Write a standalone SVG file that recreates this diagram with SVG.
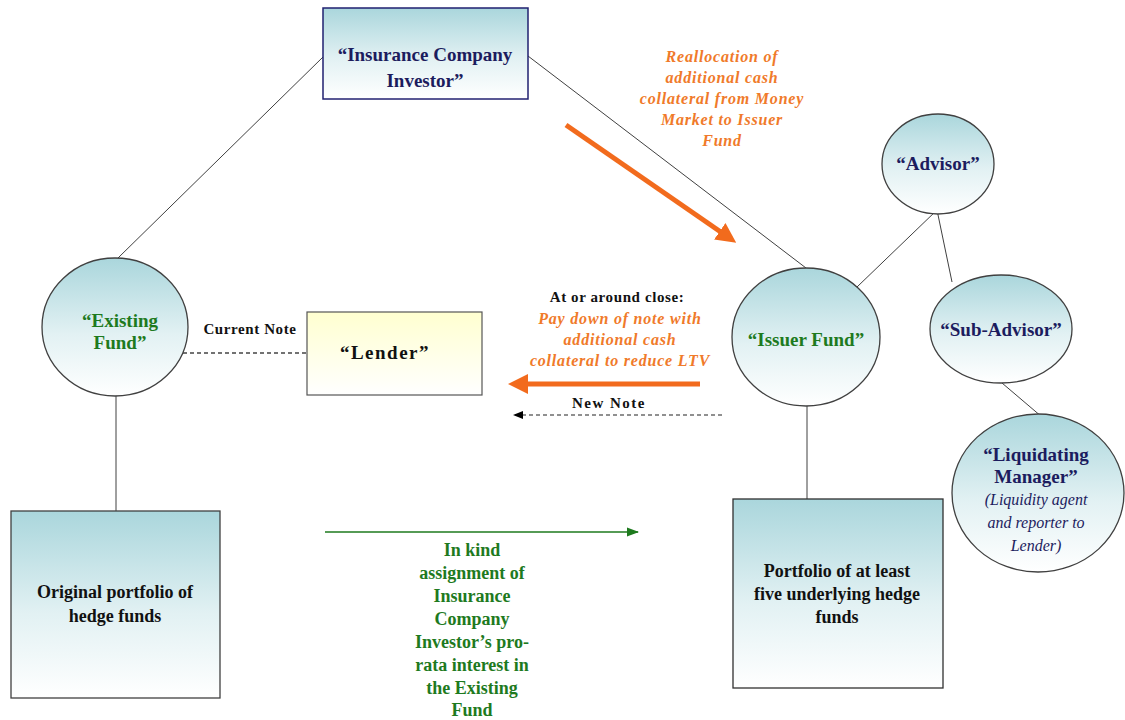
<svg xmlns="http://www.w3.org/2000/svg" width="1125" height="720" viewBox="0 0 1125 720">
<defs>
<linearGradient id="teal" x1="0" y1="0" x2="0" y2="1">
<stop offset="0" stop-color="#aad6dc"/>
<stop offset="0.55" stop-color="#e2f1f3"/>
<stop offset="1" stop-color="#ffffff"/>
</linearGradient>
<linearGradient id="yellow" x1="0" y1="0" x2="0" y2="1">
<stop offset="0" stop-color="#ffffd0"/>
<stop offset="1" stop-color="#ffffff"/>
</linearGradient>
<marker id="orangeHead" markerWidth="4" markerHeight="4" refX="2" refY="2" orient="auto" markerUnits="strokeWidth">
<path d="M0,0 L4,2 L0,4 Z" fill="#f26b1d"/>
</marker>
<marker id="blackHead" markerWidth="10" markerHeight="10" refX="9" refY="5" orient="auto" markerUnits="userSpaceOnUse">
<path d="M0,1 L10,5 L0,9 Z" fill="#000"/>
</marker>
<marker id="greenHead" markerWidth="12" markerHeight="10" refX="11" refY="5" orient="auto" markerUnits="userSpaceOnUse">
<path d="M0,0.5 L12,5 L0,9.5 Z" fill="#1e7a1e"/>
</marker>
</defs>
<style>
text { font-family: "Liberation Serif", "Times New Roman", serif; font-weight: bold; text-anchor: middle; }
.navy { fill: #1c1c5e; font-size: 19px; }
.green { fill: #1e7a1e; font-size: 19px; }
.black { fill: #111; font-size: 18px; }
.small { fill: #111; font-size: 15px; letter-spacing: 0.6px; }
.orange { fill: #f07a2a; font-size: 16px; font-style: italic; letter-spacing: 0.8px; }
.ital { fill: #1c1c5e; font-size: 16px; font-style: italic; font-weight: normal; }
.node { stroke: #404040; stroke-width: 1.3; }
.conn { stroke: #404040; stroke-width: 1; fill: none; }
</style>
<rect width="1125" height="720" fill="#ffffff"/>
<g id="connectors">
<line class="conn" x1="323" y1="57" x2="118" y2="258"/>
<line class="conn" x1="528" y1="56" x2="806" y2="268"/>
<line class="conn" x1="116" y1="395" x2="116" y2="511"/>
<line class="conn" x1="807" y1="405" x2="807" y2="499"/>
<line class="conn" x1="937" y1="210" x2="857" y2="287"/>
<line class="conn" x1="937" y1="210" x2="952" y2="282"/>
<line class="conn" x1="1002" y1="383" x2="1042" y2="417"/>
<line x1="183" y1="353" x2="307" y2="353" stroke="#444" stroke-width="1.3" stroke-dasharray="4,3"/>
<line x1="566" y1="125" x2="728" y2="237" stroke="#f26b1d" stroke-width="5" marker-end="url(#orangeHead)"/>
<line x1="700" y1="384" x2="518" y2="384" stroke="#f26b1d" stroke-width="5" marker-end="url(#orangeHead)"/>
<line x1="722" y1="415" x2="514" y2="415" stroke="#222" stroke-width="1.2" stroke-dasharray="4,3" marker-end="url(#blackHead)"/>
<line x1="325" y1="532" x2="638" y2="532" stroke="#1e7a1e" stroke-width="1.5" marker-end="url(#greenHead)"/>
</g>
<g id="insurance-company-investor">
<rect x="323" y="8" width="205" height="91" fill="url(#teal)" stroke="#202070" stroke-width="1.5"/>
<text class="navy" x="425" y="61">“Insurance Company</text>
<text class="navy" x="425" y="87">Investor”</text>
</g>
<g id="reallocation-label">
<text class="orange" x="722" y="62">Reallocation of</text>
<text class="orange" x="722" y="83">additional cash</text>
<text class="orange" x="722" y="104">collateral from Money</text>
<text class="orange" x="722" y="125">Market to Issuer</text>
<text class="orange" x="722" y="146">Fund</text>
</g>
<g id="advisor">
<ellipse class="node" cx="938" cy="164" rx="56" ry="50" fill="url(#teal)"/>
<text class="navy" x="938" y="170">“Advisor”</text>
</g>
<g id="sub-advisor">
<ellipse class="node" cx="1001" cy="329" rx="71" ry="54" fill="url(#teal)"/>
<text class="navy" x="1001" y="336">“Sub-Advisor”</text>
</g>
<g id="liquidating-manager">
<ellipse class="node" cx="1038" cy="493" rx="86" ry="79" fill="url(#teal)"/>
<text class="navy" x="1036" y="461">“Liquidating</text>
<text class="navy" x="1036" y="483">Manager”</text>
<text class="ital" x="1036" y="505">(Liquidity agent</text>
<text class="ital" x="1036" y="528">and reporter to</text>
<text class="ital" x="1036" y="551">Lender)</text>
</g>
<g id="issuer-fund">
<ellipse class="node" cx="806" cy="337" rx="74" ry="69" fill="url(#teal)"/>
<text class="green" x="806" y="346">“Issuer Fund”</text>
</g>
<g id="existing-fund">
<ellipse class="node" cx="115" cy="327" rx="73" ry="69" fill="url(#teal)"/>
<text class="green" x="120" y="327">“Existing</text>
<text class="green" x="120" y="349">Fund”</text>
</g>
<g id="lender">
<rect x="307" y="312" width="175" height="83" fill="url(#yellow)" stroke="#555" stroke-width="1.2"/>
<text class="navy" x="385" y="359" style="fill:#111; letter-spacing:1.5px">“Lender”</text>
</g>
<g id="current-note-label">
<text class="small" x="250" y="334">Current Note</text>
</g>
<g id="close-label">
<text class="small" x="617" y="302">At or around close:</text>
<text class="orange" x="620" y="324">Pay down of note with</text>
<text class="orange" x="620" y="345">additional cash</text>
<text class="orange" x="620" y="366">collateral to reduce LTV</text>
</g>
<g id="new-note-label">
<text class="small" x="609" y="408" style="letter-spacing:1.5px">New Note</text>
</g>
<g id="original-portfolio">
<rect x="11" y="511" width="209" height="187" fill="url(#teal)" stroke="#404040" stroke-width="1.3"/>
<text class="black" x="115" y="598">Original portfolio of</text>
<text class="black" x="115" y="622">hedge funds</text>
</g>
<g id="issuer-portfolio">
<rect x="733" y="499" width="210" height="189" fill="url(#teal)" stroke="#303030" stroke-width="1.3"/>
<text class="black" x="837" y="577">Portfolio of at least</text>
<text class="black" x="837" y="600">five underlying hedge</text>
<text class="black" x="837" y="623">funds</text>
</g>
<g id="in-kind-label">
<text class="green" x="472" y="556" style="font-size:18px">In kind</text>
<text class="green" x="472" y="579" style="font-size:18px">assignment of</text>
<text class="green" x="472" y="602" style="font-size:18px">Insurance</text>
<text class="green" x="472" y="625" style="font-size:18px">Company</text>
<text class="green" x="472" y="648" style="font-size:18px">Investor’s pro-</text>
<text class="green" x="472" y="671" style="font-size:18px">rata interest in</text>
<text class="green" x="472" y="694" style="font-size:18px">the Existing</text>
<text class="green" x="472" y="716" style="font-size:18px">Fund</text>
</g>
</svg>
